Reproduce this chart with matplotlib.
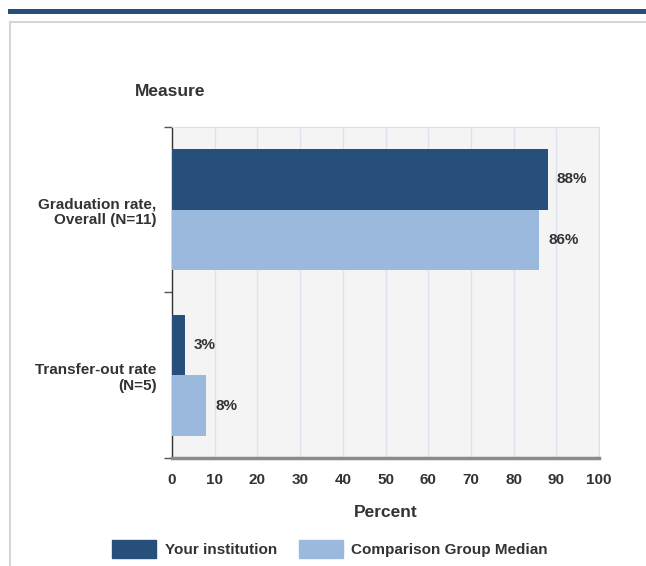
import matplotlib

matplotlib.use("Agg")

import matplotlib.pyplot as plt
from matplotlib.lines import Line2D
from matplotlib.patches import Patch, Rectangle

plt.rcParams["font.family"] = ["Liberation Sans", "DejaVu Sans"]
plt.rcParams["font.weight"] = "bold"

# data
measures = ["Graduation rate,\nOverall (N=11)", "Transfer-out rate\n(N=5)"]
institution = [88, 3]
comparison = [86, 8]
series_names = ["Your institution", "Comparison Group Median"]
x_ticks = [0, 10, 20, 30, 40, 50, 60, 70, 80, 90, 100]

DARK = "#264f7c"
LIGHT = "#9bb9dd"
TEXT = "#333333"

W, H = 646, 566
fig = plt.figure(figsize=(W / 100, H / 100), dpi=100)

# page chrome: top band and light frame
fig.add_artist(Rectangle((8 / W, 1 - 14 / H), 1, 5 / H, transform=fig.transFigure,
                         color="#254e7b", lw=0))
fig.add_artist(Line2D([10 / W, 1], [1 - 22 / H] * 2, transform=fig.transFigure,
                      color="#d6d6d6", lw=1.5))
fig.add_artist(Line2D([10 / W, 10 / W], [0, 1 - 22 / H], transform=fig.transFigure,
                      color="#d6d6d6", lw=1.5))

ax = fig.add_axes([172 / W, 108 / H, 427 / W, 331 / H])
ax.set_facecolor("#f4f4f4")

pos = list(range(len(measures)))
h = 0.366
ax.barh([p - h / 2 for p in pos], institution, height=h, color=DARK, zorder=3)
ax.barh([p + h / 2 for p in pos], comparison, height=h, color=LIGHT, zorder=3)

for p, v in zip(pos, institution):
    ax.annotate(f"{v}%", (v, p - h / 2), xytext=(6.5, 0), textcoords="offset points",
                va="center", ha="left", fontsize=11, color=TEXT)
for p, v in zip(pos, comparison):
    ax.annotate(f"{v}%", (v, p + h / 2), xytext=(6.5, 0), textcoords="offset points",
                va="center", ha="left", fontsize=11, color=TEXT)

ax.set_xlim(0, 100)
ax.set_ylim(len(measures) - 0.5, -0.5)
ax.set_xticks(x_ticks)
ax.set_xticklabels([str(t) for t in x_ticks], fontsize=11, color=TEXT)
ax.tick_params(axis="x", length=0, pad=11)
ax.grid(axis="x", color="#dde2ee", lw=1, zorder=1)

# boundary ticks on the y axis, labels centered on each group
ax.set_yticks([p - 0.5 for p in pos] + [len(measures) - 0.5])
ax.set_yticklabels([])
ax.tick_params(axis="y", which="major", length=6, color="#555555", width=1)
ax.set_yticks(pos, minor=True)
ax.set_yticklabels(measures, minor=True, fontsize=11, color=TEXT, ha="right",
                   linespacing=1.2)
ax.tick_params(axis="y", which="minor", length=0, pad=11)

ax.spines["left"].set_color("#333333")
ax.spines["left"].set_linewidth(1)
ax.spines["bottom"].set_color("#8a8a8a")
ax.spines["bottom"].set_linewidth(2.5)
ax.spines["top"].set_color("#dedede")
ax.spines["right"].set_color("#dedede")

ax.set_xlabel("Percent", fontsize=12.5, fontweight="bold", color=TEXT, labelpad=13)
fig.text(135 / W, 1 - 92 / H, "Measure", fontsize=12.5, color=TEXT, va="center", ha="left")

handles = [Patch(facecolor=DARK, edgecolor=DARK), Patch(facecolor=LIGHT, edgecolor=LIGHT)]
leg = fig.legend(handles, series_names, loc="center", bbox_to_anchor=(330 / W, 1 - 549 / H),
                 ncol=2, frameon=False, fontsize=11, handlelength=2.9, handleheight=1.5,
                 columnspacing=1.4, handletextpad=0.55)
for t in leg.get_texts():
    t.set_color(TEXT)

fig.savefig("out.png", dpi=100)
